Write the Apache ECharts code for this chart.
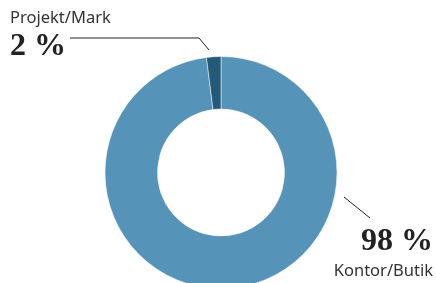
<!DOCTYPE html>
<html>
<head>
<meta charset="utf-8">
<script src="https://cdn.jsdelivr.net/npm/echarts@6/dist/echarts.min.js"></script>
<style>
  html, body { margin: 0; padding: 0; background: #fff; }
  #chart { width: 436px; height: 283px; }
</style>
</head>
<body>
<div id="chart"></div>
<script>
const categories = ["Kontor/Butik", "Projekt/Mark"];
const values = [98, 2];
const colors = ["#5593b8", "#235a77"];

const chart = echarts.init(document.getElementById("chart"));

const option = {
  backgroundColor: "#fff",
  animation: false,
  series: [
    {
      type: "pie",
      center: [221, 172.5],
      radius: [63.5, 116],
      startAngle: 90,
      clockwise: true,
      data: categories.map((c, i) => ({
        name: c,
        value: values[i],
        itemStyle: { color: colors[i] },
      })),
      itemStyle: {
        borderColor: "#fff",
        borderWidth: 0.5,
      },
      label: {
        show: true,
        position: "outside",
        formatter: (p) =>
          p.dataIndex === 0
            ? "{v|" + p.value + " %}\n{n|" + p.name + "}"
            : "{n|" + p.name + "}\n{v|" + p.value + " %}",
        rich: {
          n: {
            fontFamily: "Noto Sans",
            fontSize: 16.5,
            color: "#333",
            lineHeight: 22,
          },
          v: {
            fontFamily: "Liberation Serif",
            fontWeight: "bold",
            fontSize: 32,
            color: "#222",
            lineHeight: 36,
          },
        },
      },
      labelLine: {
        show: true,
        lineStyle: { color: "#222", width: 1 },
      },
      labelLayout: (params) => {
        if (params.dataIndex === 0) {
          return {
            x: 433,
            y: 282,
            align: "right",
            verticalAlign: "bottom",
            labelLinePoints: [
              [344, 197],
              [370, 218],
              [370, 218],
            ],
          };
        }
        return {
          x: 10,
          y: 7,
          align: "left",
          verticalAlign: "top",
          labelLinePoints: [
            [209, 50],
            [199, 38],
            [70, 38],
          ],
        };
      },
    },
  ],
};

chart.setOption(option);
</script>
</body>
</html>
